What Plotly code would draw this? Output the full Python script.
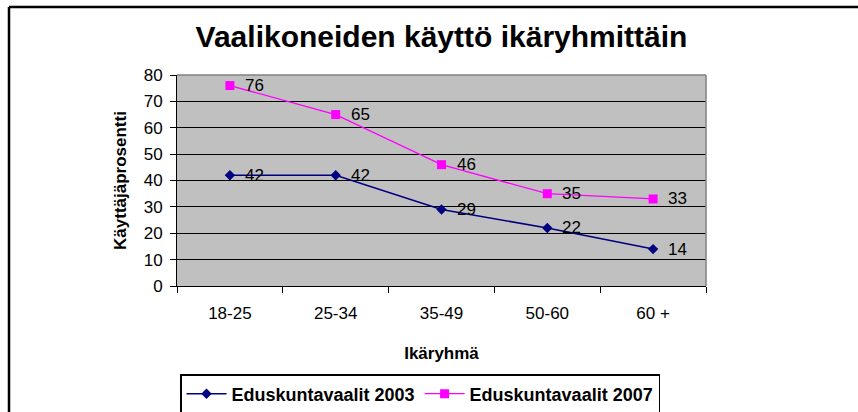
import plotly.graph_objects as go

categories = ["18-25", "25-34", "35-49", "50-60", "60 +"]
vals_2003 = [42, 42, 29, 22, 14]
vals_2007 = [76, 65, 46, 35, 33]
name_2003 = "Eduskuntavaalit 2003"
name_2007 = "Eduskuntavaalit 2007"
title = "Vaalikoneiden käyttö ikäryhmittäin"

FONT = "Liberation Sans, Arial, sans-serif"

fig = go.Figure()
fig.add_trace(go.Scatter(
    x=categories, y=vals_2003, name=name_2003, mode="lines+markers",
    line=dict(color="#000080", width=1.6),
    marker=dict(symbol="diamond", size=8, color="#000080"),
    cliponaxis=False,
))
fig.add_trace(go.Scatter(
    x=categories, y=vals_2007, name=name_2007, mode="lines+markers",
    line=dict(color="#FF00FF", width=1.3),
    marker=dict(symbol="square", size=9, color="#FF00FF"),
    cliponaxis=False,
))

annotations = []
for series in (vals_2003, vals_2007):
    for c, v in zip(categories, series):
        annotations.append(dict(
            x=c, y=v, xref="x", yref="y", text=str(v), showarrow=False,
            xanchor="left", yanchor="middle", xshift=13,
            font=dict(size=17, color="#000000", family=FONT),
        ))

L, R, T, B = 177, 152, 75, 126
W, H = 858, 412
pw, ph = W - L - R, H - T - B

def px_x(p):
    return (p - L) / pw

def px_y(p):
    return (H - B - p) / ph

shapes = [
    dict(type="line", xref="paper", yref="paper", x0=0, x1=1, y0=1, y1=1,
         line=dict(color="#808080", width=1.5)),
    dict(type="line", xref="paper", yref="paper", x0=1, x1=1, y0=0, y1=1,
         line=dict(color="#808080", width=1.5)),
    dict(type="line", xref="paper", yref="paper", x0=px_x(9), x1=px_x(870),
         y0=px_y(7), y1=px_y(7), line=dict(color="#000000", width=2.5)),
    dict(type="line", xref="paper", yref="paper", x0=px_x(9), x1=px_x(9),
         y0=px_y(7), y1=px_y(420), line=dict(color="#000000", width=2.5)),
]

fig.update_layout(
    width=W, height=H,
    margin=dict(l=L, r=R, t=T, b=B, autoexpand=False),
    paper_bgcolor="white",
    plot_bgcolor="#C0C0C0",
    font=dict(family=FONT, size=16, color="#000000"),
    title=dict(text="<b>" + title + "</b>", x=0.5, xanchor="center",
               xref="paper", y=1 - 36 / H, yanchor="middle",
               font=dict(size=30, family=FONT, color="#000000")),
    showlegend=True,
    legend=dict(orientation="h", x=px_x(180), xanchor="left",
                y=px_y(374), yanchor="top",
                bordercolor="#000000", borderwidth=1.5, bgcolor="white",
                font=dict(size=18, family=FONT, color="#000000", weight="bold"),
                itemwidth=40, traceorder="normal"),
    shapes=shapes,
    annotations=annotations,
    xaxis=dict(
        type="category", showgrid=False, showline=True, linecolor="#000000",
        linewidth=1, ticks="outside", tickson="boundaries", ticklen=6,
        tickcolor="#000000", tickfont=dict(size=17), range=[-0.5, 4.5],
        ticklabelstandoff=12,
        title=dict(text="<b>Ikäryhmä</b>", font=dict(size=17), standoff=24),
        zeroline=False,
    ),
    yaxis=dict(
        range=[0, 80], dtick=10, showgrid=True, gridcolor="#000000",
        gridwidth=1, showline=True, linecolor="#000000", linewidth=1,
        ticks="outside", ticklen=6, tickcolor="#000000",
        tickfont=dict(size=17), zeroline=False, ticklabelstandoff=4,
        title=dict(text="<b>Käyttäjäprosentti</b>", font=dict(size=17), standoff=12),
    ),
)

fig.write_html("out.html", config={"displayModeBar": False},
               post_script="document.body.style.margin='0px';")
